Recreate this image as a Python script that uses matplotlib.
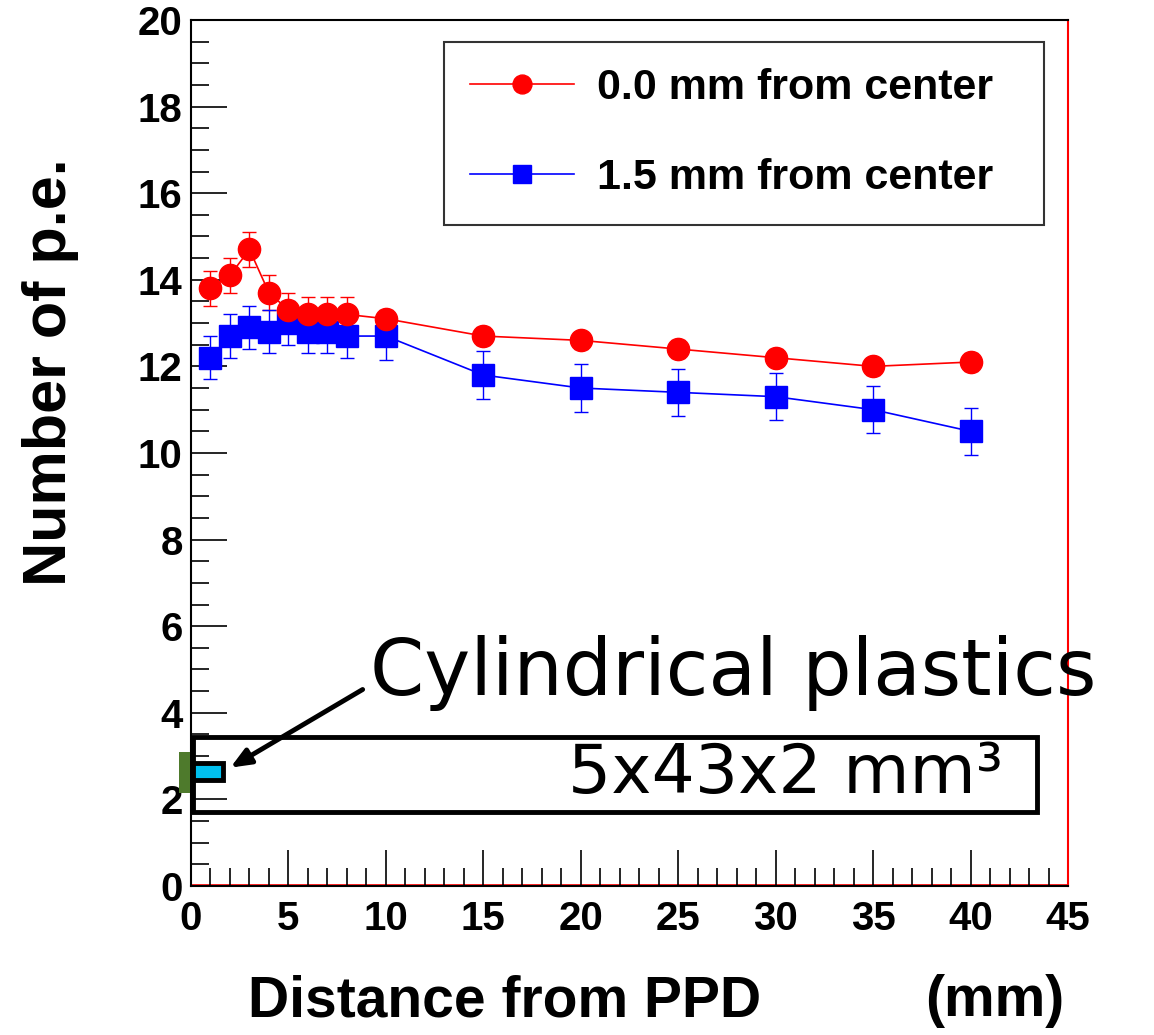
import numpy as np
import matplotlib
matplotlib.use('Agg')
import matplotlib.pyplot as plt
import matplotlib.patches as patches
from matplotlib.ticker import MultipleLocator

# data
dist_red = [1, 2, 3, 4, 5, 6, 7, 8, 10, 15, 20, 25, 30, 35, 40]
npe_red = [13.8, 14.1, 14.7, 13.7, 13.3, 13.2, 13.2, 13.2, 13.1, 12.7, 12.6, 12.4, 12.2, 12.0, 12.1]
err_red = [0.4, 0.4, 0.4, 0.4, 0.4, 0.4, 0.4, 0.4, 0.2, 0.2, 0.2, 0.2, 0.2, 0.2, 0.2]

dist_blue = [1, 2, 3, 4, 5, 6, 7, 8, 10, 15, 20, 25, 30, 35, 40]
npe_blue = [12.2, 12.7, 12.9, 12.8, 13.0, 12.8, 12.8, 12.7, 12.7, 11.8, 11.5, 11.4, 11.3, 11.0, 10.5]
err_blue = [0.5, 0.5, 0.5, 0.5, 0.5, 0.5, 0.5, 0.5, 0.55, 0.55, 0.55, 0.55, 0.55, 0.55, 0.55]

label_red = '0.0 mm from center'
label_blue = '1.5 mm from center'

plt.rcParams['font.family'] = ['Liberation Sans', 'DejaVu Sans']

fig = plt.figure(figsize=(11.54, 10.35), dpi=100)
ax = fig.add_axes([0.1655, 0.144, 0.760, 0.8367])

# error bars (caps only visible around markers)
ax.errorbar(dist_red, npe_red, yerr=err_red, fmt='none', ecolor='red', elinewidth=1, capsize=5, capthick=1, zorder=2)
ax.errorbar(dist_blue, npe_blue, yerr=err_blue, fmt='none', ecolor='blue', elinewidth=1, capsize=5, capthick=1, zorder=2)

ax.plot(dist_blue, npe_blue, color='blue', lw=1.2, marker='s', markersize=16, markeredgecolor='blue', label=label_blue, zorder=3)
ax.plot(dist_red, npe_red, color='red', lw=1.2, marker='o', markersize=16, markeredgecolor='red', label=label_red, zorder=4)

ax.set_xlim(0, 45)
ax.set_ylim(0, 20)
ax.xaxis.set_major_locator(MultipleLocator(5))
ax.xaxis.set_minor_locator(MultipleLocator(1))
ax.yaxis.set_major_locator(MultipleLocator(2))
ax.yaxis.set_minor_locator(MultipleLocator(0.5))
ax.tick_params(which='both', direction='in', top=False, right=False, width=1.2, labelsize=29)
ax.tick_params(which='major', length=26)
ax.tick_params(which='minor', length=13)
ax.tick_params(axis='x', pad=10)
ax.tick_params(axis='y', pad=6)
for t in ax.get_xticklabels() + ax.get_yticklabels():
    t.set_fontweight('bold')
for s in ['left', 'bottom', 'top']:
    ax.spines[s].set_linewidth(1.5)
ax.spines['right'].set_color('red')
ax.spines['right'].set_linewidth(1.5)
ax.axhline(0.03, color='red', lw=1.2, zorder=1)

fig.text(0.044, 0.64, 'Number of p.e.', fontsize=44, fontweight='bold', rotation=90, ha='center', va='center')
fig.text(0.4376, 0.018, 'Distance from PPD', fontsize=41, fontweight='bold', ha='center', va='baseline')
fig.text(0.862, 0.018, '(mm)', fontsize=41, fontweight='bold', ha='center', va='baseline')

# legend
h, l = ax.get_legend_handles_labels()
leg = ax.legend(h[::-1], l[::-1], loc='upper left', bbox_to_anchor=(0.288, 0.777, 0.685, 0.198), mode='expand',
                prop={'size': 31, 'weight': 'bold'}, frameon=True, fancybox=False, edgecolor='black',
                handlelength=2.4, handletextpad=0.55, labelspacing=1.15, borderpad=0.62, borderaxespad=0,
                markerscale=0.85)
leg.get_frame().set_linewidth(1.5)

# sketch of the scintillator
ax.add_patch(patches.Rectangle((0.1, 1.71), 43.3, 1.73, fill=False, edgecolor='black', lw=3.5, zorder=5))
ax.add_patch(patches.Rectangle((0.1, 2.45), 1.54, 0.39, facecolor='#00c0f0', edgecolor='black', lw=3.5, zorder=6))
ax.add_patch(patches.Rectangle((-0.6, 2.15), 0.55, 0.94, facecolor='#4e7a2c', edgecolor='none', zorder=6, clip_on=False))
ax.text(30.5, 2.58, '5x43x2 mm³', fontsize=49, family=['DejaVu Sans'], ha='center', va='center', zorder=6)
ax.annotate('', xy=(1.9, 2.70), xytext=(8.93, 4.57),
            arrowprops=dict(arrowstyle='-|>,head_length=1.2,head_width=0.5', color='black', lw=3.5), zorder=7)
ax.text(9.2, 4.41, 'Cylindrical plastics', fontsize=56, family=['DejaVu Sans'], ha='left', va='baseline', zorder=7)

fig.savefig('out.png', dpi=100)
